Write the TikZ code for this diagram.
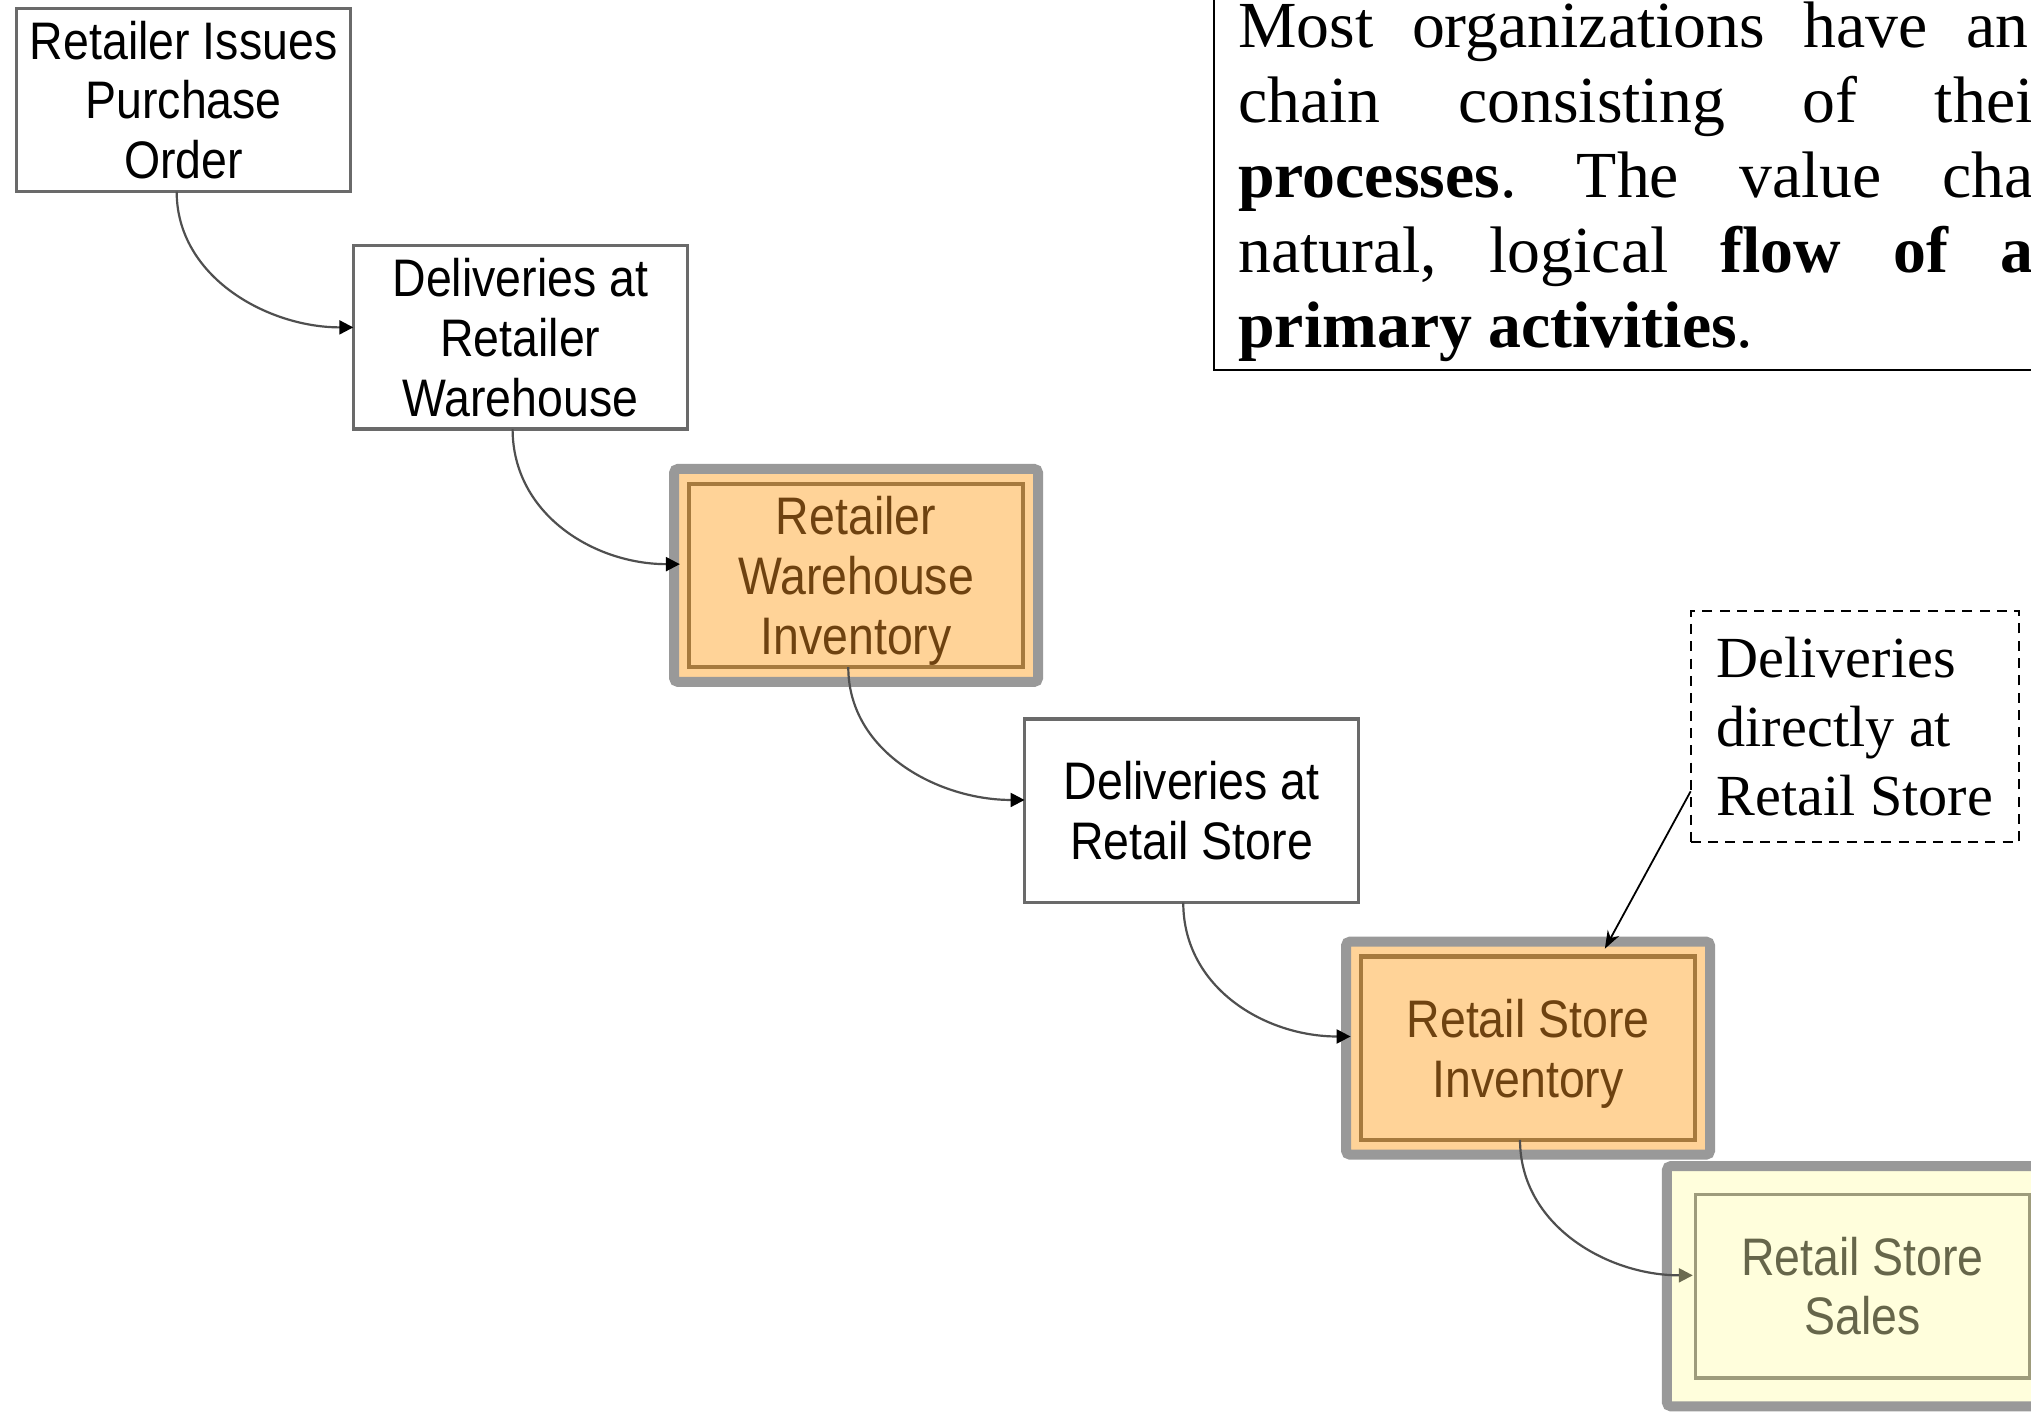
\documentclass[tikz,border=0pt]{standalone}
\usepackage{fontspec}
\setmainfont{Liberation Serif}
\newfontfamily\boxfont[FakeStretch=0.88]{Liberation Sans}
\usetikzlibrary{arrows.meta,calc}
\frenchspacing

\definecolor{boxline}{HTML}{6A6A6A}
\definecolor{flowline}{HTML}{4F4F4F}
\definecolor{framegray}{HTML}{999999}
\definecolor{invfill}{HTML}{FFD398}
\definecolor{invline}{HTML}{A67A3E}
\definecolor{invtext}{HTML}{6E4210}
\definecolor{salesfill}{HTML}{FFFEDC}
\definecolor{salesline}{HTML}{9E9C7C}
\definecolor{salestext}{HTML}{66664A}
\definecolor{salestip}{HTML}{6A6A50}

% last line of a stage label: keep its descender out of the vertical centring
\newcommand{\flatline}[1]{\raisebox{0pt}[\height][0pt]{#1}}

\tikzset{
  stage/.style={rectangle, outer sep=0pt, inner sep=0pt,
    minimum width=167.7pt, minimum height=92pt, align=center,
    font=\boxfont\fontsize{26.5pt}{30pt}\selectfont},
  plainstage/.style={stage, draw=boxline, line width=1.7pt, fill=white, text=black},
  invstage/.style={stage, draw=invline, line width=2.2pt, fill=invfill, text=invtext},
  salesstage/.style={stage, draw=salesline, line width=1.7pt, fill=salesfill, text=salestext},
  invframe/.style={draw=framegray, line width=5pt, fill=invfill, rounded corners=2pt},
  salesframe/.style={draw=framegray, line width=5pt, fill=salesfill, rounded corners=2pt},
  flow/.style={draw=flowline, line width=1.1pt,
    -{Triangle[length=7pt,width=7pt,color=black]}},
  salesflow/.style={draw=flowline, line width=1.1pt,
    -{Triangle[length=7pt,width=7pt,color=salestip]}},
  noteframe/.style={draw=black, line width=1pt},
  notetext/.style={inner sep=0pt, outer sep=0pt, align=left,
    font=\fontsize{33pt}{37.6pt}\selectfont},
  direct/.style={rectangle, draw=black, line width=0.9pt,
    dash pattern=on 5pt off 3.7pt, outer sep=0pt, inner sep=0pt,
    minimum width=164.8pt, minimum height=116.2pt, align=left,
    font=\fontsize{29.2pt}{34.7pt}\selectfont},
  callout/.style={draw=black, line width=0.9pt,
    -{Stealth[length=9pt,width=6.5pt]}}
}

\begin{document}
\begin{tikzpicture}[x=0.65pt, y=-0.65pt]
\useasboundingbox (0,0) rectangle (1568,1091);
\clip (0,0) rectangle (1568,1091);
\fill[white] (0,0) rectangle (1568,1091);

% explanatory paragraph, framed
\draw[noteframe] (937,-20) rectangle (1620,286);
\node[notetext, anchor=north west] (note) at (956,1.5) {%
  \makebox[396.5pt][s]{Most organizations have an}\\
  \makebox[399pt][s]{chain consisting of thei}\\
  \makebox[399pt][s]{\textbf{processes}. The value cha}\\
  \makebox[399pt][s]{natural, logical \textbf{flow of a}}\\
  \textbf{primary activities}.};

% centres of the six stages
\coordinate (p1) at (141.8,77.2);
\coordinate (p2) at (401.75,260.45);
\coordinate (p3) at (660.9,444.25);
\coordinate (p4) at (920,626);
\coordinate (p5) at (1179.7,809.2);
\coordinate (p6) at (1437.9,993);

% grey highlight frames
\draw[invframe] ($(p3)+(-140.5,-82.25)$) rectangle ($(p3)+(140.5,82.25)$);
\draw[invframe] ($(p5)+(-140.5,-82.25)$) rectangle ($(p5)+(140.5,82.25)$);
\draw[salesframe] ($(p6)+(-151,-92.75)$) rectangle ($(p6)+(151,92.75)$);

% stages
\node[plainstage] (b1) at (p1) {Retailer Issues\\Purchase\\Order};
\node[plainstage] (b2) at (p2) {Deliveries at\\Retailer\\Warehouse};
\node[invstage]   (b3) at (p3) {Retailer\\Warehouse\\\flatline{Inventory}};
\node[plainstage] (b4) at (p4) {Deliveries at\\Retail Store};
\node[invstage]   (b5) at (p5) {Retail Store\\\flatline{Inventory}};
\node[salesstage] (b6) at (p6) {Retail Store\\Sales};

% flow connectors: down out of one stage, into the left side of the next
\coordinate (s1) at ($(b1.south)+(-5.4,0)$);
\coordinate (e1) at ($(b2.west)+(0,-7.7)$);
\coordinate (s2) at ($(b2.south)+(-6,0)$);
\coordinate (e2) at ($(b3.west)+(-7,-8.7)$);
\coordinate (s3) at ($(b3.south)+(-6,0)$);
\coordinate (e3) at ($(b4.west)+(0,-8.4)$);
\coordinate (s4) at ($(b4.south)+(-6.5,0)$);
\coordinate (e4) at ($(b5.west)+(-8,-9)$);
\coordinate (s5) at ($(b5.south)+(-6.2,0)$);
\coordinate (e5) at ($(b6.west)+(-2,-8.4)$);

\draw[flow] (s1) .. controls ($(s1)+(0,66)$) and ($(e1)+(-66,0)$) .. (e1);
\draw[flow] (s2) .. controls ($(s2)+(0,66)$) and ($(e2)+(-66,0)$) .. (e2);
\draw[flow] (s3) .. controls ($(s3)+(0,66)$) and ($(e3)+(-66,0)$) .. (e3);
\draw[flow] (s4) .. controls ($(s4)+(0,66)$) and ($(e4)+(-66,0)$) .. (e4);
\draw[salesflow] (s5) .. controls ($(s5)+(0,66)$) and ($(e5)+(-66,0)$) .. (e5);

% dashed callout
\node[direct] (direct) at (1432,560.9) {Deliveries\\directly at\\Retail Store};
\coordinate (ct) at ($(b5.north)+(59.3,-6)$);
\draw[callout] ($(direct.west)+(0,50)$) -- (ct);
\end{tikzpicture}
\end{document}
